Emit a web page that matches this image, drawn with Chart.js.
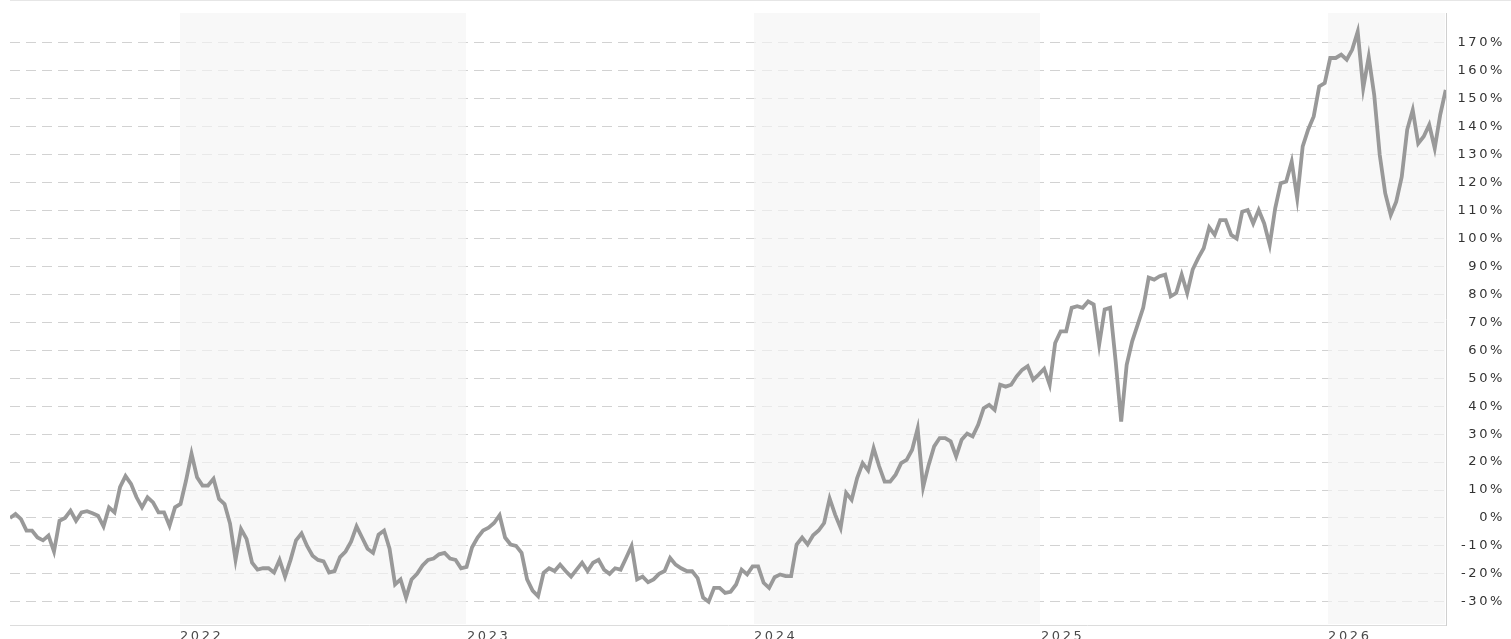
<!DOCTYPE html>
<html>
<head>
<meta charset="utf-8">
<title>Performance</title>
<script src="https://cdn.jsdelivr.net/npm/chart.js@4.4.1/dist/chart.umd.min.js"></script>
<style>
  html, body { margin: 0; padding: 0; background: #fff; overflow: hidden; }
  #wrap { position: relative; width: 1511px; height: 660px; }
  #perfChart { position: absolute; left: 0; top: 0; }
  #topline { position: absolute; left: 10px; right: 0; top: 0; height: 1px; background: #e6e6e6; }
</style>
</head>
<body>
<div id="wrap">
  <canvas id="perfChart" width="1511" height="660"></canvas>
  <div id="topline"></div>
</div>
<script>
// weekly closes, % change since start (first week ~ end of May 2021)
const START_YEAR = 2021.408;
const WEEK = 7 / 365.25;
const X_MIN = 2021.408;
const X_MAX = 2026.411;
const Y_MIN = -38.3;
const Y_MAX = 180.7;

const perfValues = [
  0, 1.4, -0.4, -4.5, -4.5, -7, -8, -6.3, -12, -1,
  0, 2.6, -1, 2, 2.4, 1.7, 0.8, -3, 3.8, 2,
  11, 15, 12.2, 7.4, 3.8, 7.4, 5.6, 2, 2, -2.8,
  3.8, 5, 13.4, 23, 14.6, 11.6, 11.6, 14, 6.8, 5,
  -2, -15, -4, -7.5, -16, -18.5, -18, -18, -19.5, -15,
  -21, -15, -8, -5.5, -10, -13.5, -15, -15.5, -19.5, -19,
  -14, -12, -8.5, -3, -7, -11, -12.5, -6, -4.5, -11,
  -23.8, -22, -28.5, -22, -20, -17, -15, -14.5, -13, -12.5,
  -14.5, -15, -18, -17.5, -10.5, -7, -4.5, -3.5, -1.8, 1,
  -7, -9.5, -10, -12.5, -22, -26, -28, -19.6, -18, -19,
  -16.7, -19, -21, -18.5, -16, -19, -16, -15, -18.5, -20,
  -18, -18.5, -14.3, -10, -22, -21, -23, -22, -20, -19,
  -14.3, -16.7, -18, -19, -19, -21.5, -28.5, -30, -25, -25,
  -26.8, -26.4, -23.8, -18.5, -20.2, -17.3, -17.3, -23.2, -25, -21.2,
  -20.2, -20.8, -20.8, -9.5, -7, -9.5, -6.2, -4.5, -1.8, 7,
  1.2, -3.6, 9, 6.5, 14.3, 19.6, 17, 25, 18.5, 13,
  13, 15.5, 19.6, 20.8, 24.4, 32, 11, 19, 25.6, 28.6,
  28.6, 27.4, 22, 28, 30.2, 29.2, 33.3, 39.3, 40.5, 38.7,
  47.7, 47, 47.7, 50.7, 53, 54.3, 49.5, 51.3, 53.4, 47.7,
  62.6, 66.8, 66.8, 75.2, 75.8, 75.2, 77.5, 76.4, 62, 74.6,
  75.2, 56, 34.5, 54.8, 63.2, 69.2, 75.2, 86, 85.3, 86.5,
  87.1, 79.3, 80.5, 87.1, 80.5, 88.9, 93, 96.5, 104, 101.3,
  106.6, 106.6, 101.3, 100, 109.6, 110.2, 105.4, 110.2, 105.4, 97.7,
  110.8, 119.8, 120.4, 127.5, 114.4, 133, 139, 143.7, 154.4, 155.6,
  164.6, 164.6, 165.8, 164, 167.6, 174, 153.8, 165, 151.4, 130,
  116.2, 108.4, 113.2, 122, 139, 146, 134, 136.5, 140.7, 132.3,
  144.3, 153.2
];

const yearTicks = [2022, 2023, 2024, 2025, 2026];
const shadedYears = [2022, 2024, 2026];
const pctTicks = [-30, -20, -10, 0, 10, 20, 30, 40, 50, 60, 70, 80, 90, 100, 110, 120, 130, 140, 150, 160, 170];

(function () {
  const points = perfValues.map((v, i) => ({ x: START_YEAR + i * WEEK, y: v }));

  // canvas letter spacing, the labels in the original are spaced out
  const spacing = {
    id: "spacing",
    beforeLayout(chart) { chart.ctx.letterSpacing = "2.6px"; },
    beforeDraw(chart) { chart.ctx.letterSpacing = "2.6px"; }
  };

  // alternate year shading, painted over the grid so dashes look lighter there
  const yearBands = {
    id: "yearBands",
    beforeDatasetsDraw(chart) {
      const { ctx, chartArea, scales } = chart;
      const xs = scales.x;
      ctx.save();
      ctx.fillStyle = "rgba(244,244,244,0.66)";
      shadedYears.forEach((yr) => {
        const a = xs.getPixelForValue(Math.max(yr, xs.min));
        const b = xs.getPixelForValue(Math.min(yr + 1, xs.max));
        ctx.fillRect(a, chartArea.top, b - a - 1, chartArea.bottom - chartArea.top - 1);
      });
      ctx.restore();
    }
  };

  Chart.defaults.font.family = "'DejaVu Sans', Verdana, sans-serif";
  Chart.defaults.font.size = 13;

  new Chart(document.getElementById("perfChart"), {
    type: "line",
    data: {
      datasets: [{
        data: points,
        borderColor: "#999999",
        borderWidth: 3.8,
        pointRadius: 0,
        tension: 0,
        fill: false
      }]
    },
    options: {
      responsive: false,
      animation: false,
      layout: { padding: { top: 13, left: 10, right: 6, bottom: 0 } },
      plugins: { legend: { display: false }, tooltip: { enabled: false } },
      scales: {
        x: {
          type: "linear",
          min: X_MIN,
          max: X_MAX,
          afterBuildTicks: (scale) => { scale.ticks = yearTicks.map((v) => ({ value: v })); },
          afterFit: (scale) => { scale.height = 35; scale.paddingLeft = 0; scale.paddingRight = 0; },
          grid: { display: false },
          border: { display: true, color: "#dcdcdc", width: 1 },
          ticks: {
            autoSkip: false,
            maxRotation: 0,
            align: "start",
            padding: -4,
            color: "#4a4a4a",
            callback: (v) => String(v)
          }
        },
        y: {
          position: "right",
          min: Y_MIN,
          max: Y_MAX,
          afterBuildTicks: (scale) => { scale.ticks = pctTicks.map((v) => ({ value: v })); },
          afterFit: (scale) => { scale.width = 59; scale.paddingTop = 0; scale.paddingBottom = 0; },
          grid: { color: "#d2d2d2", lineWidth: 1, drawTicks: false },
          border: { display: true, color: "#d0d0d0", width: 1, dash: [10, 6] },
          ticks: {
            crossAlign: "far",
            padding: 13,
            color: "#333333",
            callback: (v) => v + "%"
          }
        }
      }
    },
    plugins: [spacing, yearBands]
  });
})();
</script>
</body>
</html>
